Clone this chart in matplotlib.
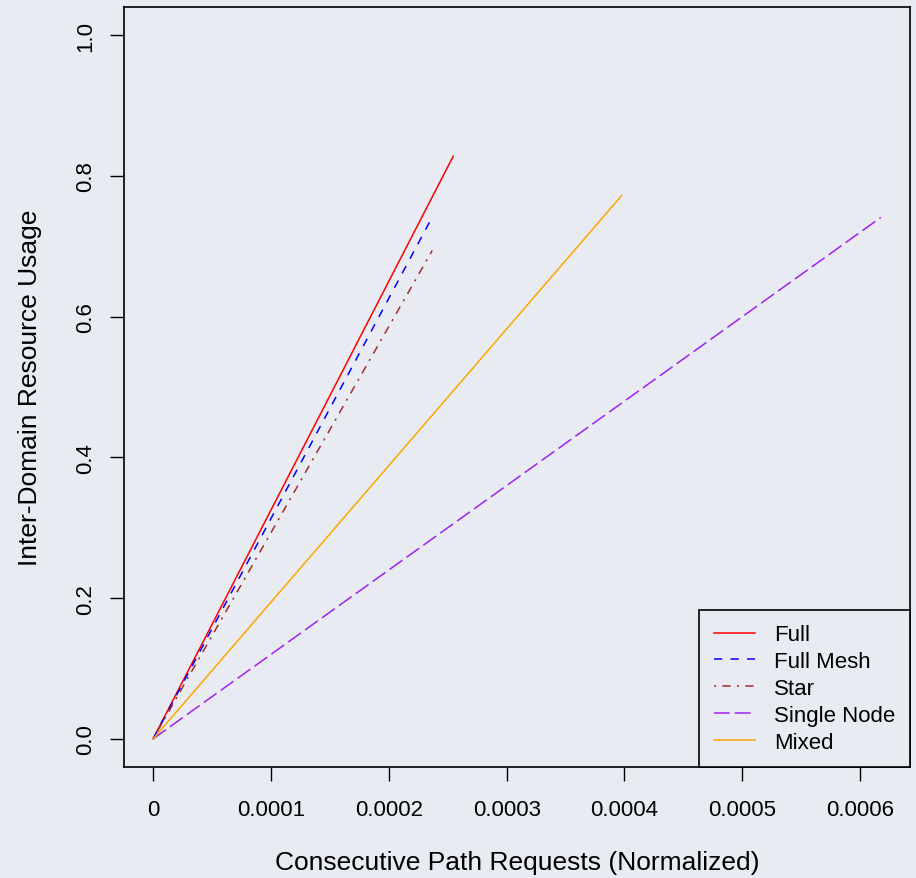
import matplotlib
matplotlib.use('Agg')
import matplotlib.pyplot as plt
from matplotlib.lines import Line2D

plt.rcParams['font.family'] = ['Liberation Sans', 'DejaVu Sans']

# endpoints of each curve (x = normalized path requests, y = resource usage)
full_x = [0, 0.0002547]
full_y = [0, 0.828]
mesh_x = [0, 0.0002377]
mesh_y = [0, 0.744]
star_x = [0, 0.0002369]
star_y = [0, 0.694]
single_x = [0, 0.0006176]
single_y = [0, 0.741]
mixed_x = [0, 0.0003976]
mixed_y = [0, 0.772]

labels = ['Full', 'Full Mesh', 'Star', 'Single Node', 'Mixed']
colors = ['red', 'blue', 'brown', '#A020F0', 'orange']
dashes = [None, (5.4, 5.4), (1.4, 4.1, 5.4, 4.1), (10.3, 3.3), None]

xticks = [0, 0.0001, 0.0002, 0.0003, 0.0004, 0.0005, 0.0006]
xticklabels = ['0', '0.0001', '0.0002', '0.0003', '0.0004', '0.0005', '0.0006']
yticks = [0.0, 0.2, 0.4, 0.6, 0.8, 1.0]
yticklabels = ['0.0', '0.2', '0.4', '0.6', '0.8', '1.0']

bg = '#e8ecf2'
fig = plt.figure(figsize=(9.16, 8.79), dpi=100, facecolor=bg)
ax = fig.add_axes([124/916, 111/879, 786/916, 760/879])
ax.set_facecolor(bg)

series = [(full_x, full_y), (mesh_x, mesh_y), (star_x, star_y),
          (single_x, single_y), (mixed_x, mixed_y)]
handles = []
for (xs, ys), lab, c, d in zip(series, labels, colors, dashes):
    ln, = ax.plot(xs, ys, color=c, lw=1.1)
    if d is not None:
        ln.set_dashes(d)
    h = Line2D([], [], color=c, lw=1.1)
    if d is not None:
        h.set_dashes(d)
    handles.append(h)

xmax = max(single_x)
ax.set_xlim(-0.04*xmax, xmax*1.04)
ax.set_ylim(-0.04, 1.04)

ax.set_xticks(xticks)
ax.set_xticklabels(xticklabels)
ax.set_yticks(yticks)
ax.set_yticklabels(yticklabels, rotation=90, va='center')
ax.tick_params(direction='out', length=10, width=1, labelsize=16, pad=13)
ax.tick_params(axis='y', pad=10)
for s in ax.spines.values():
    s.set_linewidth(1.2)

ax.set_xlabel('Consecutive Path Requests (Normalized)', fontsize=19, labelpad=22)
ax.set_ylabel('Inter-Domain Resource Usage', fontsize=19, labelpad=24)

leg = ax.legend(handles, labels, loc='lower right', fontsize=16, frameon=True,
                fancybox=False, borderaxespad=0, borderpad=0.65,
                handlelength=1.87, handletextpad=0.85, labelspacing=0.26,
                facecolor=bg, framealpha=1)
leg.get_frame().set_edgecolor('black')
leg.get_frame().set_linewidth(1.2)

fig.savefig('out.png', dpi=100, facecolor=bg)
